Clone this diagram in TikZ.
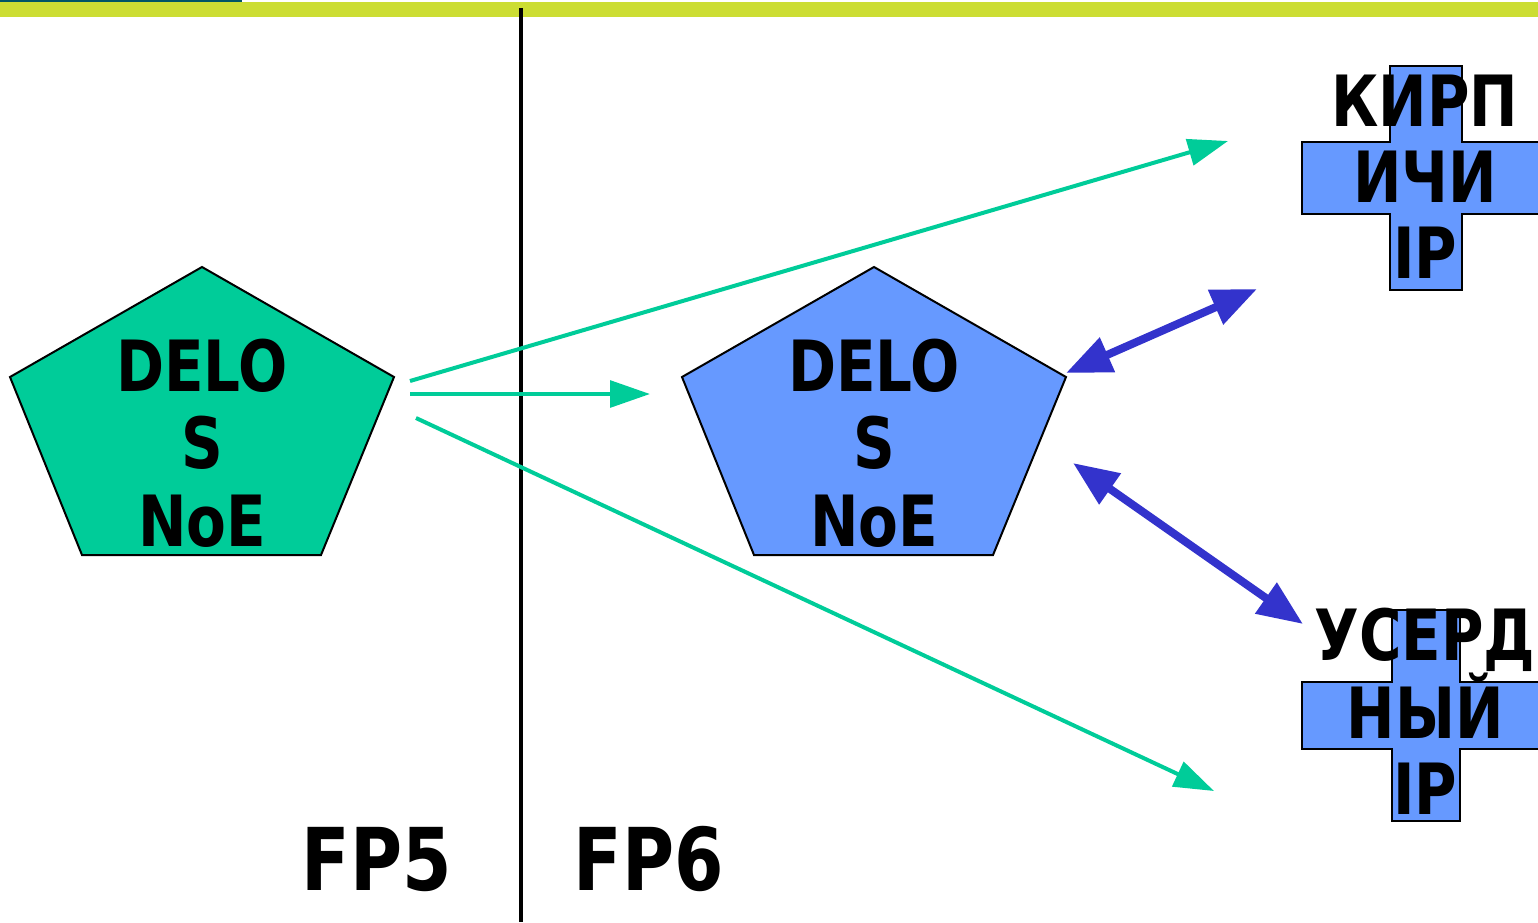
\documentclass[tikz,border=0pt]{standalone}
\usepackage{fontspec}
\setmainfont[FakeStretch=0.82]{DejaVu Sans}
\usetikzlibrary{arrows.meta}
\definecolor{lime}{HTML}{CCDD33}
\definecolor{teal}{HTML}{005566}
\definecolor{pgreen}{HTML}{00CC99}
\definecolor{pblue}{HTML}{6699FF}
\definecolor{dblue}{HTML}{3333CC}
\tikzset{
  shapeline/.style={draw=black, line width=1.5pt},
  bigtext/.style={font=\bfseries\fontsize{53}{58}\selectfont, align=center, inner sep=0pt, anchor=base},
  crosstext/.style={font=\bfseries\fontsize{53}{57}\selectfont, align=center, inner sep=0pt, anchor=base},
  fptext/.style={font=\bfseries\fontsize{65}{70}\selectfont, inner sep=0pt, anchor=base},
  garrow/.style={draw=pgreen, line width=3pt, -{Triangle[length=30pt,width=20pt]}},
  barrow/.style={draw=dblue, line width=6pt, {Triangle[length=34pt,width=27pt]}-{Triangle[length=34pt,width=27pt]}},
}
\begin{document}
\begin{tikzpicture}[x=0.75pt,y=-0.75pt]
\useasboundingbox (0,0) rectangle (1538,922);
% top bars
\fill[lime] (0,2) rectangle (1538,17);
\fill[teal] (0,0) rectangle (242,2);
% divider
\draw[line width=3pt] (521,8) -- (521,922);
% crosses
\fill[pblue] (1390,66) rectangle (1462,290);
\fill[pblue] (1302,142) rectangle (1545,214);
\draw[line width=1.5pt] (1545,142) -- (1462,142) -- (1462,66) -- (1390,66) -- (1390,142) -- (1302,142)
  -- (1302,214) -- (1390,214) -- (1390,290) -- (1462,290) -- (1462,214) -- (1545,214);
\fill[pblue] (1392,610) rectangle (1460,821);
\fill[pblue] (1302,682) rectangle (1545,749);
\draw[line width=1.5pt] (1545,682) -- (1460,682) -- (1460,610) -- (1392,610) -- (1392,682) -- (1302,682)
  -- (1302,749) -- (1392,749) -- (1392,821) -- (1460,821) -- (1460,749) -- (1545,749);
% pentagons
\draw[shapeline, fill=pgreen] (202,267) -- (394,377) -- (321,555) -- (82,555) -- (10,377) -- cycle;
\draw[shapeline, fill=pblue] (874,267) -- (1066,377) -- (993,555) -- (754,555) -- (682,377) -- cycle;
% texts (anchor = baseline of last line)
\node[bigtext] (delos1) at (202,546) {DELO\\S\\NoE};
\node[bigtext] (delos2) at (874,546) {DELO\\S\\NoE};
\node[crosstext] (kirp) at (1425,278) {КИРП\\ИЧИ\\IP};
\node[crosstext] (userd) at (1425,814) {УСЕРД\\НЫЙ\\IP};
\node[fptext] (fp5) at (377,890) {FP5};
\node[fptext] (fp6) at (649,890) {FP6};
% arrow endpoints
\coordinate (g1s) at (410,381);
\coordinate (g1e) at (1228,141);
\coordinate (g2s) at (410,394);
\coordinate (g2e) at (650,394);
\coordinate (g3s) at (416,418);
\coordinate (g3e) at (1214,791);
\coordinate (b1s) at (1066,373);
\coordinate (b1e) at (1257,289);
\coordinate (b2s) at (1073,463);
\coordinate (b2e) at (1303,624);
\draw[garrow] (g1s) -- (g1e);
\draw[garrow] (g2s) -- (g2e);
\draw[garrow] (g3s) -- (g3e);
\draw[barrow] (b1s) -- (b1e);
\draw[barrow] (b2s) -- (b2e);
\end{tikzpicture}
\end{document}
